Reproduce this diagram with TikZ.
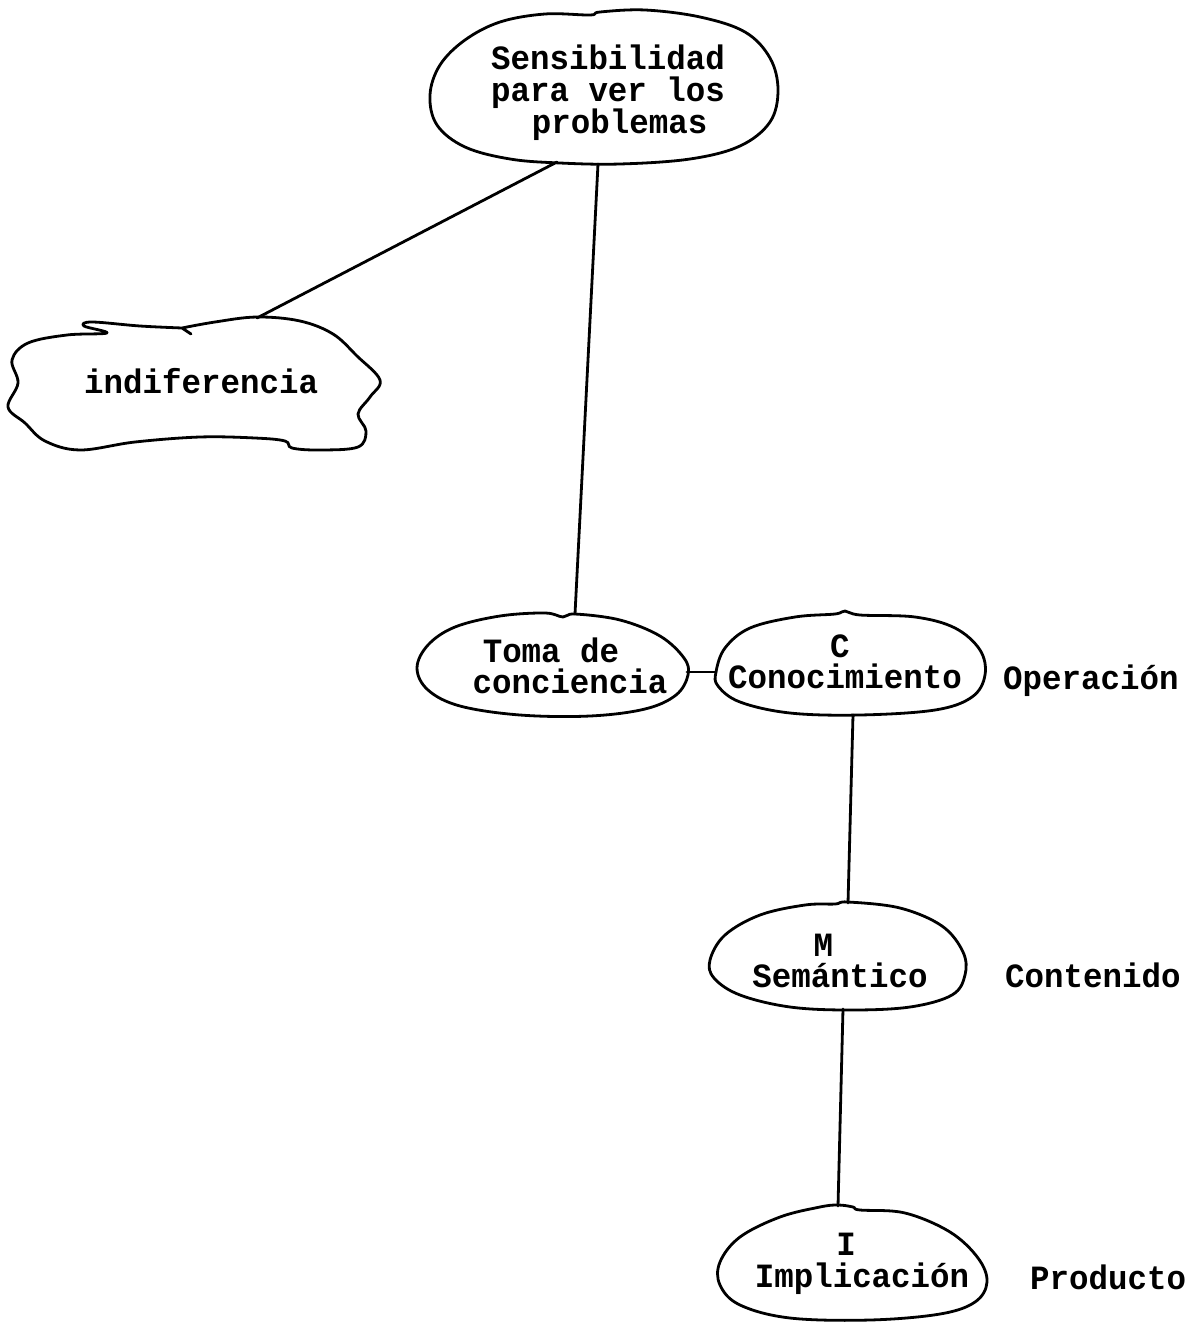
\documentclass[tikz,border=0pt]{standalone}
\usepackage{fontspec}
\setmainfont[FakeStretch=0.955]{Liberation Mono}
\begin{document}
\begin{tikzpicture}[x=1pt,y=-1pt,
  outline/.style={line width=2.8pt, line join=round, line cap=round},
  link/.style={line width=2.8pt, line cap=round},
  txt/.style={font=\bfseries\fontsize{34}{31.5}\selectfont, inner sep=0pt, align=left},
]
\useasboundingbox (0,0) rectangle (1197,1322);

% ---- outlines of the concept bubbles ----
% Sensibilidad
\draw[outline] plot[smooth cycle, tension=0.6] coordinates {
  (590,15) (545,14) (500,22) (465,40) (440,65) (430,95) (437,125) (465,147)
  (510,159) (560,163) (620,164) (690,159) (740,146) (770,122) (778,90)
  (770,58) (745,32) (700,17) (645,10) (600,12)};
% indiferencia (wavy cloud)
\draw[outline] plot[smooth, tension=0.6] coordinates {
  (182,328) (215,322) (257,317) (300,321) (333,334) (357,356) (380,380)
  (370,397) (358,414) (366,431) (358,447) (320,450) (292,448) (285,441)
  (255,438) (200,437) (135,442) (80,450) (45,441) (25,423) (8,407)
  (18,383) (12,360) (28,343) (67,335) (107,333) (84,326) (92,322)
  (140,326) (182,328)} -- (191,334);
% Toma de conciencia
\draw[outline] plot[smooth cycle, tension=0.6] coordinates {
  (575,614) (620,620) (660,636) (684,658) (688,675) (676,695) (645,709)
  (590,716) (520,715) (460,706) (428,690) (417,668) (428,645) (455,627)
  (500,616) (545,613) (563,617)};
% Conocimiento
\draw[outline] plot[smooth cycle, tension=0.6] coordinates {
  (716,672) (725,648) (750,628) (795,617) (835,614) (845,611) (860,615)
  (915,617) (955,628) (980,650) (985,675) (972,697) (935,710) (860,715)
  (790,713) (740,702) (718,686)};
% Semantico
\draw[outline] plot[smooth cycle, tension=0.6] coordinates {
  (848,902) (900,908) (942,926) (963,952) (965,975) (952,995) (910,1007)
  (850,1010) (790,1007) (740,995) (714,978) (710,960) (725,935) (760,915)
  (805,905) (835,904)};
% Implicacion
\draw[outline] plot[smooth cycle, tension=0.6] coordinates {
  (838,1205) (853,1207) (860,1210) (905,1213) (950,1232) (978,1258)
  (987,1282) (975,1302) (940,1314) (870,1320) (790,1318) (740,1305)
  (720,1285) (720,1262) (740,1237) (780,1217) (820,1207)};

% ---- texts ----
\node[txt] (sens) at (608,93) {Sensibilidad\\para ver los\\\hspace*{1.2em}problemas};
\node[txt, anchor=base west] (indif) at (84,393) {indiferencia};
\node[txt] (toma) at (570,666) {\hspace*{0.3em}Toma de\\conciencia};
\node[txt] (conoc) at (845,662) {\hspace*{3em}C\\Conocimiento};
\node[txt] (seman) at (840,961) {\hspace*{1.8em}M\\Semántico};
\node[txt] (impl) at (862,1264) {\hspace*{2.4em}I\\Implicación};
\node[txt, anchor=base west] (oper) at (1003,689) {Operación};
\node[txt, anchor=base west] (cont) at (1005,987) {Contenido};
\node[txt, anchor=base west] (prod) at (1030,1289) {Producto};

% ---- attachment points on the outlines ----
\coordinate (sensA) at (557,162);
\coordinate (sensB) at (598,164);
\coordinate (indifT) at (257,318);
\coordinate (tomaT) at (575,614);
\coordinate (tomaR) at (687,672);
\coordinate (conocL) at (716,672);
\coordinate (conocB) at (853,715);
\coordinate (semanT) at (848,903);
\coordinate (semanB) at (843,1009);
\coordinate (implT) at (838,1206);

% ---- connectors ----
\draw[link] (sensA) -- (indifT);
\draw[link] (sensB) -- (tomaT);
\draw[link] (tomaR) -- (conocL);
\draw[link] (conocB) -- (semanT);
\draw[link] (semanB) -- (implT);
\end{tikzpicture}
\end{document}
